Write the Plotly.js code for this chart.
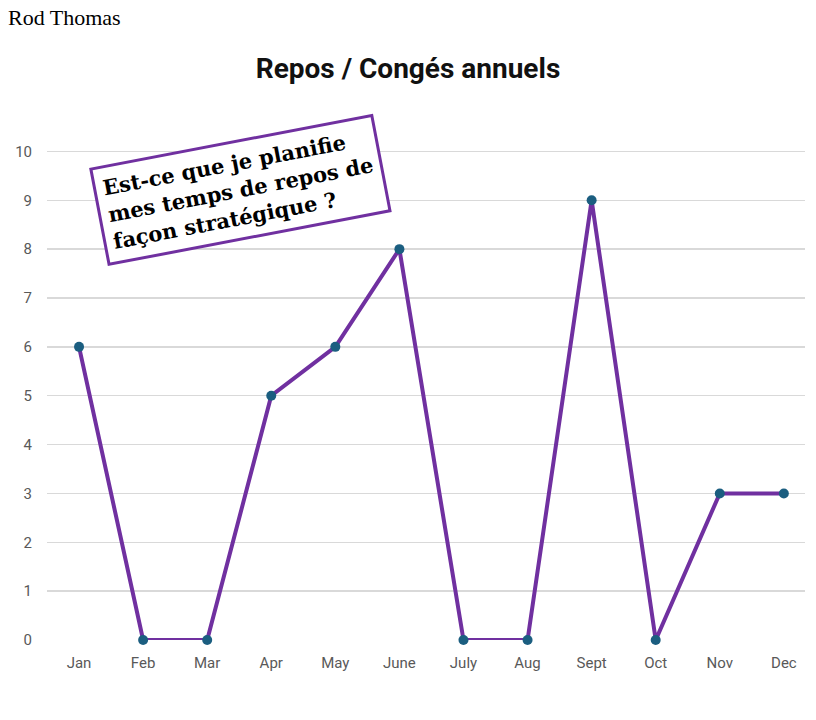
<!DOCTYPE html>
<html>
<head>
<meta charset="utf-8">
<script src="https://cdn.plot.ly/plotly-3.0.1.min.js"></script>
<style>html,body{margin:0;padding:0;background:#fff;}</style>
</head>
<body>
<div id="chart" style="width:816px;height:720px;"></div>
<script>
const months = ["Jan","Feb","Mar","Apr","May","June","July","Aug","Sept","Oct","Nov","Dec"];
const values = [6,0,0,5,6,8,0,0,9,0,3,3];
const yTicks = [0,1,2,3,4,5,6,7,8,9,10];

const trace = {
  x: months,
  y: values,
  type: "scatter",
  mode: "lines+markers",
  line: {color: "#7030a0", width: 4},
  marker: {color: "#1b5e80", size: 10},
  cliponaxis: false,
  hoverinfo: "skip"
};

const layout = {
  width: 816, height: 720,
  margin: {l: 47, r: 11, t: 148.6, b: 80},
  paper_bgcolor: "#ffffff",
  plot_bgcolor: "#ffffff",
  showlegend: false,
  title: {
    text: "<b>Repos / Congés annuels</b>",
    x: 0.5, xref: "container", xanchor: "center",
    y: 1 - 68/720, yref: "container", yanchor: "middle",
    font: {family: "Roboto, sans-serif", size: 28, color: "#111111"}
  },
  xaxis: {
    type: "category",
    range: [-0.5, 11.33],
    showgrid: false,
    zeroline: false,
    showline: false,
    ticks: "",
    tickfont: {family: "Roboto, sans-serif", size: 15, color: "#595959"},
    ticklabelstandoff: 12
  },
  yaxis: {
    range: [0, 10.05],
    tickvals: yTicks,
    ticktext: yTicks.map(String),
    showgrid: true,
    gridcolor: "#d9d9d9",
    gridwidth: 1.5,
    zeroline: false,
    showline: false,
    ticks: "",
    tickfont: {family: "Roboto, sans-serif", size: 15, color: "#595959"},
    ticklabelstandoff: 14
  },
  annotations: [
    {
      text: "Est-ce que je planifie<br>mes temps de repos de<br>façon stratégique ?",
      xref: "paper", yref: "paper",
      x: (240 - 47) / 758, y: (640 - 190) / 491.4,
      xanchor: "center", yanchor: "middle",
      align: "left",
      showarrow: false,
      textangle: -10.8,
      font: {family: "'DejaVu Serif', serif", size: 21, color: "#000000", weight: "bold"},
      bgcolor: "#ffffff",
      bordercolor: "#7030a0",
      borderwidth: 3,
      borderpad: 7
    },
    {
      text: "Rod Thomas",
      xref: "paper", yref: "paper",
      x: (6 - 47) / 758, y: (640 - 17) / 491.4,
      xanchor: "left", yanchor: "middle",
      showarrow: false,
      font: {family: "'Liberation Serif', serif", size: 22, color: "#000000"}
    }
  ]
};

Plotly.newPlot("chart", [trace], layout, {displayModeBar: false, staticPlot: true});
</script>
</body>
</html>
